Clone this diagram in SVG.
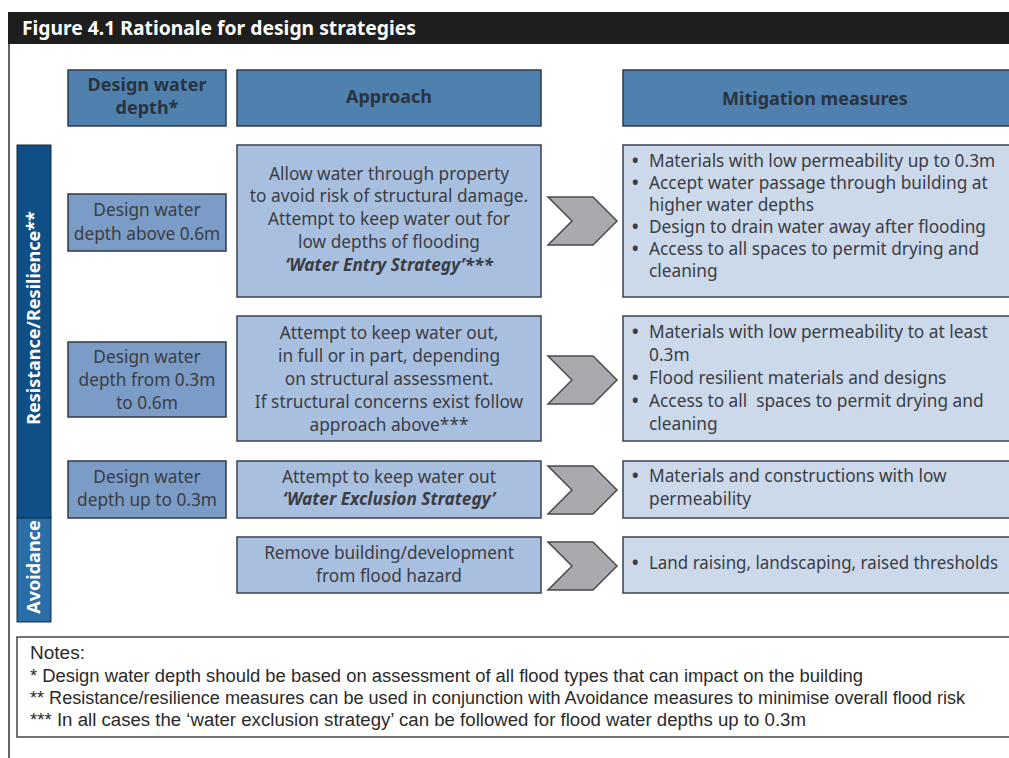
<svg xmlns="http://www.w3.org/2000/svg" width="1009" height="758" viewBox="0 0 1009 758">
<style>
.t{font-family:"Noto Sans","Open Sans",sans-serif;font-size:17.3px;fill:#3a3d44}
.c{text-anchor:middle}
.b{font-weight:bold}
.hb{fill:#4f80ae;stroke:#2f3a48;stroke-width:1.5}
.ht{font-family:"Noto Sans","Open Sans",sans-serif;font-size:18px;font-weight:bold;fill:#2a3340;text-anchor:middle}
.db{fill:#7a9cc6;stroke:#2f3a48;stroke-width:1.5}
.ab{fill:#a9bfdf;stroke:#3a4250;stroke-width:1.5}
.mb{fill:#ccd9eb;stroke:#3a4250;stroke-width:1.5}
.chev{fill:#a9aaae;stroke:#4a4a50;stroke-width:1.5;stroke-linejoin:miter}
.side{font-family:"Noto Sans","Open Sans",sans-serif;font-size:18px;font-weight:bold;fill:#ffffff;text-anchor:middle}
.nt{font-family:"Liberation Sans Narrow","Liberation Sans",sans-serif;font-size:18px;fill:#2a2a2a}
</style>
<rect x="0" y="0" width="1009" height="758" fill="#ffffff"/>
<g id="frame">
<line x1="9" y1="12" x2="9" y2="758" stroke="#333" stroke-width="1.5"/>
<rect x="8" y="12" width="1001" height="32" fill="#1e1e1e"/>
<text x="22" y="35" font-family="Noto Sans, Open Sans, sans-serif" font-size="19" font-weight="bold" fill="#ffffff" textLength="394" lengthAdjust="spacingAndGlyphs">Figure 4.1  Rationale for design strategies</text>
</g>
<g id="header-depth"><rect class="hb" x="68" y="70" width="158" height="56"/><text class="ht" x="147" y="91">Design water</text><text class="ht" x="147" y="114">depth*</text></g>
<g id="header-approach"><rect class="hb" x="237" y="70" width="304" height="56"/><text class="ht" x="389" y="103">Approach</text></g>
<g id="header-mitigation"><rect class="hb" x="623" y="70" width="400" height="56"/><text class="ht" x="815" y="105">Mitigation measures</text></g>

<g id="side-resistance"><rect x="17" y="145" width="34" height="373" fill="#0f4f86" stroke="#1a2a3a" stroke-width="1"/><text class="side" transform="translate(40,318) rotate(-90)">Resistance/Resilience**</text></g>
<g id="side-avoidance"><rect x="17" y="518" width="34" height="104" fill="#2b6da7" stroke="#1a2a3a" stroke-width="1"/><text class="side" transform="translate(40,567) rotate(-90)">Avoidance</text></g>

<g id="depth-1"><rect class="db" x="68" y="194" width="158" height="57"/><text class="t c" x="147" y="216">Design water</text><text class="t c" x="147" y="240">depth above 0.6m</text></g>
<g id="depth-2"><rect class="db" x="68" y="342" width="158" height="75"/><text class="t c" x="147" y="363">Design water</text><text class="t c" x="147" y="386">depth from 0.3m</text><text class="t c" x="147" y="409">to 0.6m</text></g>
<g id="depth-3"><rect class="db" x="68" y="461" width="158" height="57"/><text class="t c" x="147" y="483">Design water</text><text class="t c" x="147" y="506">depth up to 0.3m</text></g>

<g id="approach-1"><rect class="ab" x="237" y="145" width="304" height="152"/>
<text class="t c" x="389" y="180">Allow water through property</text>
<text class="t c" x="389" y="202">to avoid risk of structural damage.</text>
<text class="t c" x="389" y="225">Attempt to keep water out for</text>
<text class="t c" x="389" y="248">low depths of flooding</text>
<text class="t c b" x="389" y="271" font-style="italic">‘Water Entry Strategy’***</text></g>
<g id="approach-2"><rect class="ab" x="237" y="316" width="304" height="125"/>
<text class="t c" x="389" y="339">Attempt to keep water out,</text>
<text class="t c" x="389" y="362">in full or in part, depending</text>
<text class="t c" x="389" y="385">on structural assessment.</text>
<text class="t c" x="389" y="408">If structural concerns exist follow</text>
<text class="t c" x="389" y="431">approach above***</text></g>
<g id="approach-3"><rect class="ab" x="237" y="461" width="304" height="57"/>
<text class="t c" x="389" y="483">Attempt to keep water out</text>
<text class="t c b" x="389" y="505" font-style="italic">‘Water Exclusion Strategy’</text></g>
<g id="approach-4"><rect class="ab" x="237" y="537" width="304" height="56"/>
<text class="t c" x="389" y="559">Remove building/development</text>
<text class="t c" x="389" y="582">from flood hazard</text></g>

<g id="connectors">
<path class="chev" d="M548,197 L593,197 L617,221 L593,245 L548,245 L572,221 Z"/>
<path class="chev" d="M548,356 L593,356 L617,380 L593,404 L548,404 L572,380 Z"/>
<path class="chev" d="M548,466 L593,466 L617,490 L593,514 L548,514 L572,490 Z"/>
<path class="chev" d="M548,542 L593,542 L617,566 L593,590 L548,590 L572,566 Z"/>
</g>

<g id="mitigation-1"><rect class="mb" x="623" y="145" width="400" height="152"/>
<text class="t b" x="632" y="167">•</text><text class="t" x="649" y="167">Materials with low permeability up to 0.3m</text>
<text class="t b" x="632" y="189">•</text><text class="t" x="649" y="189">Accept water passage through building at</text>
<text class="t" x="649" y="211">higher water depths</text>
<text class="t b" x="632" y="233">•</text><text class="t" x="649" y="233">Design to drain water away after flooding</text>
<text class="t b" x="632" y="255">•</text><text class="t" x="649" y="255">Access to all spaces to permit drying and</text>
<text class="t" x="649" y="277">cleaning</text></g>
<g id="mitigation-2"><rect class="mb" x="623" y="316" width="400" height="125"/>
<text class="t b" x="632" y="338">•</text><text class="t" x="649" y="338">Materials with low permeability to at least</text>
<text class="t" x="649" y="361">0.3m</text>
<text class="t b" x="632" y="384">•</text><text class="t" x="649" y="384">Flood resilient materials and designs</text>
<text class="t b" x="632" y="407">•</text><text class="t" x="649" y="407" xml:space="preserve">Access to all  spaces to permit drying and</text>
<text class="t" x="649" y="430">cleaning</text></g>
<g id="mitigation-3"><rect class="mb" x="623" y="461" width="400" height="57"/>
<text class="t b" x="632" y="482">•</text><text class="t" x="649" y="482">Materials and constructions with low</text>
<text class="t" x="649" y="505">permeability</text></g>
<g id="mitigation-4"><rect class="mb" x="623" y="537" width="400" height="56"/>
<text class="t b" x="632" y="569">•</text><text class="t" x="649" y="569" textLength="349" lengthAdjust="spacingAndGlyphs">Land raising, landscaping, raised thresholds</text></g>

<g id="notes"><rect x="17" y="637" width="1010" height="100" fill="#ffffff" stroke="#444" stroke-width="1.5"/>
<text class="nt" x="30" y="659" font-size="19" textLength="55" lengthAdjust="spacingAndGlyphs">Notes:</text>
<text class="nt" x="30" y="682" textLength="833" lengthAdjust="spacingAndGlyphs">* Design water depth should be based on assessment of all flood types that can impact on the building</text>
<text class="nt" x="30" y="704" textLength="935" lengthAdjust="spacingAndGlyphs">** Resistance/resilience measures can be used in conjunction with Avoidance measures to minimise overall flood risk</text>
<text class="nt" x="30" y="726" textLength="776" lengthAdjust="spacingAndGlyphs">*** In all cases the ‘water exclusion strategy’ can be followed for flood water depths up to 0.3m</text></g>
</svg>
